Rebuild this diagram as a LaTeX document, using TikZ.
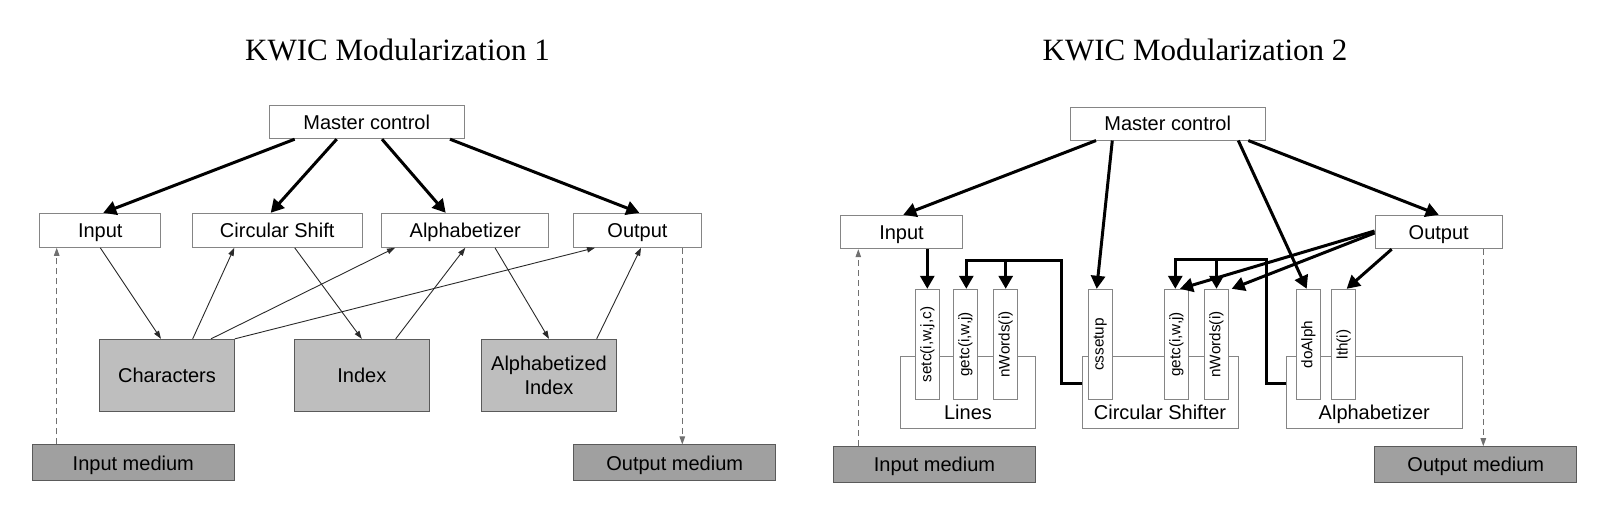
\documentclass[tikz,border=0pt]{standalone}
\usepackage{fontspec}
\newfontfamily\lsans{Liberation Sans}
\newfontfamily\lserif{Liberation Serif}
\usetikzlibrary{arrows.meta}
\definecolor{bordr}{HTML}{858585}
\definecolor{lightg}{HTML}{BEBEBE}
\definecolor{darkg}{HTML}{A0A0A0}
\definecolor{gbord}{HTML}{5A5A5A}
\definecolor{thinc}{HTML}{2A2A2A}
\definecolor{dashc}{HTML}{707070}
\begin{document}
\begin{tikzpicture}[x=1pt,y=-1pt,
  txt/.style={font=\lsans\fontsize{20}{24}\selectfont},
  wbox/.style={txt, draw=bordr, fill=white, line width=1pt, inner sep=0pt, text height=14.5pt, text depth=0pt},
  gbox/.style={txt, draw=gbord, fill=lightg, line width=1pt, inner sep=0pt, align=center, minimum width=134.6pt, minimum height=71.7pt},
  dbox/.style={txt, draw=gbord, fill=darkg, line width=1pt, inner sep=0pt, text height=14.5pt, text depth=0pt, minimum width=202pt, minimum height=36pt},
  cont/.style={draw=bordr, line width=1pt, fill=white, inner sep=0pt, minimum height=72pt},
  meth/.style={draw=bordr, line width=1pt, fill=white, inner sep=0pt, minimum width=24pt, minimum height=110.4pt},
  mlab/.style={rotate=90, font=\lsans\fontsize{15.3}{18}\selectfont, inner sep=0pt},
  clab/.style={txt, anchor=base, inner sep=0pt},
  title/.style={font=\lserif\fontsize{31}{36}\selectfont, anchor=base, inner sep=0pt},
  big/.style={line width=3pt, draw=black, -{Triangle[length=13pt,width=14pt]}},
  bigline/.style={line width=3pt, draw=black},
  thin/.style={line width=0.9pt, draw=thinc, -{Triangle[length=8pt,width=5.5pt]}},
  dsh/.style={line width=1pt, draw=dashc, dash pattern=on 6pt off 4pt, -{Triangle[length=8pt,width=5.5pt]}}
]
\useasboundingbox (0,0) rectangle (1618,510);

% ---------------- Left diagram ----------------
\node[title] (t1) at (397.5,61) {KWIC Modularization 1};

\node[wbox, minimum width=195.3pt, minimum height=33pt] (mc1) at (366.7,122.2) {Master control};
\node[wbox, minimum width=121.3pt, minimum height=34pt] (in1) at (100.3,230.3) {Input};
\node[wbox, minimum width=169.7pt, minimum height=34pt] (cs1) at (277.2,230.3) {Circular Shift};
\node[wbox, minimum width=166.7pt, minimum height=34pt] (al1) at (465.3,230.3) {Alphabetizer};
\node[wbox, minimum width=127.6pt, minimum height=34pt] (out1) at (637.5,230.3) {Output};

\node[gbox, text height=14.5pt, text depth=0pt] (ch1) at (167,375.2) {Characters};
\node[gbox, text height=14.5pt, text depth=0pt] (ix1) at (361.8,375.2) {Index};
\node[gbox] (ai1) at (549,375.2) {Alphabetized\\Index};

\node[dbox] (im1) at (133.3,463) {Input medium};
\node[dbox] (om1) at (674.7,463) {Output medium};

\draw[big] ([xshift=-72pt]mc1.south) -- ([xshift=3pt]in1.north);
\draw[big] ([xshift=-30pt]mc1.south) -- ([xshift=-6.5pt]cs1.north);
\draw[big] ([xshift=15.3pt]mc1.south) -- ([xshift=-19.6pt]al1.north);
\draw[big] ([xshift=83.3pt]mc1.south) -- ([xshift=1.8pt]out1.north);

\draw[thin] (in1.south) -- ([xshift=-6pt]ch1.north);
\draw[thin] ([xshift=25.7pt]ch1.north) -- ([xshift=-42.9pt]cs1.south);
\draw[thin] ([xshift=44pt]ch1.north) -- ([xshift=-70.3pt]al1.south);
\draw[thin] (ch1.north east) -- ([xshift=-42.5pt]out1.south);
\draw[thin] ([xshift=17.5pt]cs1.south) -- (ix1.north);
\draw[thin] ([xshift=33.9pt]ix1.north) -- (al1.south);
\draw[thin] ([xshift=29.7pt]al1.south) -- (ai1.north);
\draw[thin] ([xshift=47.7pt]ai1.north) -- ([xshift=3.5pt]out1.south);

\draw[dsh] ([xshift=-76.6pt]im1.north) -- ([xshift=-43.6pt]in1.south);
\draw[dsh] ([xshift=44.8pt]out1.south) -- ([xshift=7.6pt]om1.north);

% ---------------- Right diagram ----------------
\node[title] (t2) at (1195,61) {KWIC Modularization 2};

\node[wbox, minimum width=195.3pt, minimum height=32.7pt] (mc2) at (1167.7,123.7) {Master control};
\node[wbox, minimum width=121.6pt, minimum height=33.4pt] (in2) at (901.5,232) {Input};
\node[wbox, minimum width=127.3pt, minimum height=33.4pt] (out2) at (1438.7,232) {Output};

\node[cont, minimum width=134.6pt] (lines) at (968,392.7) {};
\node[cont, minimum width=156pt] (csh) at (1160.3,392.7) {};
\node[cont, minimum width=175.6pt] (alph) at (1374.5,392.7) {};
\node[clab] (linesT) at (968,420) {Lines};
\node[clab] (cshT) at (1160,420) {Circular Shifter};
\node[clab] (alphT) at (1374.3,420) {Alphabetizer};

\node[meth] (setc) at (927.3,344.5) {};
\node[meth] (getcL) at (965.3,344.5) {};
\node[meth] (nwL) at (1005.7,344.5) {};
\node[meth] (cssetup) at (1100.3,344.5) {};
\node[meth] (getcC) at (1176.3,344.5) {};
\node[meth] (nwC) at (1216.5,344.5) {};
\node[meth] (doalph) at (1308.3,344.5) {};
\node[meth] (lth) at (1343.7,344.5) {};
\node[mlab] (setcT) at (setc) {setc(i,w,j,c)};
\node[mlab] (getcLT) at (getcL) {getc(i,w,j)};
\node[mlab] (nwLT) at (nwL) {nWords(i)};
\node[mlab] (cssetupT) at (cssetup) {cssetup};
\node[mlab] (getcCT) at (getcC) {getc(i,w,j)};
\node[mlab] (nwCT) at (nwC) {nWords(i)};
\node[mlab] (doalphT) at (doalph) {doAlph};
\node[mlab] (lthT) at (lth) {lth(i)};

\node[dbox, minimum width=202.4pt] (im2) at (934.5,464.7) {Input medium};
\node[dbox, minimum width=201.7pt] (om2) at (1475.8,464.7) {Output medium};

\coordinate (busA) at (1061.7,260.7);
\coordinate (busB) at (1266.7,259.3);

\draw[big] ([xshift=-71.7pt]mc2.south) -- ([xshift=1.8pt]in2.north);
\draw[big] ([xshift=-55.4pt]mc2.south) -- ([xshift=-3.6pt]cssetup.north);
\draw[big] ([xshift=70.6pt]mc2.south) -- ([xshift=-1.6pt]doalph.north);
\draw[big] ([xshift=80.6pt]mc2.south) -- (out2.north);

\draw[big] (setc.north |- in2.south) -- (setc.north);
\draw[big, line join=miter] ([yshift=8.7pt]csh.west) -| (busA) -| ([xshift=1pt]getcL.north);
\draw[big] (nwL.north |- busA) -- (nwL.north);
\draw[big, line join=miter] ([yshift=8.7pt]alph.west) -| (busB) -| ([xshift=-1pt]getcC.north);
\draw[big] (nwC.north |- busB) -- (nwC.north);

\draw[big] ([yshift=1pt]out2.west) -- ([xshift=3.7pt]getcC.north);
\draw[big] ([yshift=-1pt]out2.west) -- ([xshift=15.2pt]nwC.north);
\draw[big] ([xshift=-47pt]out2.south) -- ([xshift=3pt]lth.north);

\draw[dsh] ([xshift=-76.2pt]im2.north) -- ([xshift=-43.2pt]in2.south);
\draw[dsh] ([xshift=44.6pt]out2.south) -- ([xshift=7.5pt]om2.north);
\end{tikzpicture}
\end{document}
